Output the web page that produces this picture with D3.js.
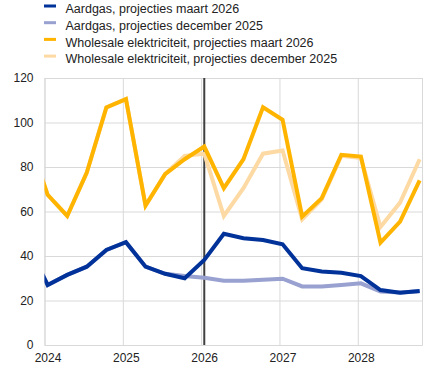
<!DOCTYPE html>
<html>
<head>
<meta charset="utf-8">
<script src="https://cdn.jsdelivr.net/npm/d3@7"></script>
<style>
  html, body { margin: 0; padding: 0; background: #fff; }
  #chart { width: 425px; height: 373px; }
</style>
</head>
<body>
<div id="chart"></div>
<script>
(function () {
  "use strict";

  // quarters, first one (2023Q4) sits just left of the plot and gets clipped
  var quarters = ["2023Q4",
    "2024Q1", "2024Q2", "2024Q3", "2024Q4",
    "2025Q1", "2025Q2", "2025Q3", "2025Q4",
    "2026Q1", "2026Q2", "2026Q3", "2026Q4",
    "2027Q1", "2027Q2", "2027Q3", "2027Q4",
    "2028Q1", "2028Q2", "2028Q3", "2028Q4"];

  var gasMar  = [45, 27, 31.5, 35.2, 42.7, 46.2, 35.2, 32, 30, 38.2, 50, 48, 47.2, 45.3, 34.5, 33, 32.5, 31, 24.7, 23.5, 24.3];
  var gasDec  = [45, 27, 31.5, 35.2, 42.7, 46.2, 35.2, 32, 31, 30.2, 28.9, 28.9, 29.3, 29.8, 26.3, 26.3, 27, 27.7, 24, 23.6, 24.2];
  var elecMar = [93.5, 67.5, 58, 77.5, 106.8, 110.5, 62.7, 76.8, 83.5, 89.2, 70.5, 83.5, 106.8, 101.2, 57.7, 66, 85.5, 84.7, 46, 55.5, 74];
  var elecDec = [93.5, 67.5, 58, 77.5, 106.8, 110.5, 62.7, 76.8, 85, 86, 58, 70.5, 86, 87.4, 56.5, 65.5, 85, 84, 53, 64, 83.5];

  var yearTicks = [2024, 2025, 2026, 2027, 2028];
  var yTicks    = [0, 20, 40, 60, 80, 100, 120];
  var cutoff    = "2026Q1";

  var series = [
    { name: "Aardgas, projecties maart 2026",                   values: gasMar,  color: "#003299" },
    { name: "Aardgas, projecties december 2025",                values: gasDec,  color: "#98a1d0" },
    { name: "Wholesale elektriciteit, projecties maart 2026",    values: elecMar, color: "#ffb400" },
    { name: "Wholesale elektriciteit, projecties december 2025", values: elecDec, color: "#fddaa4" }
  ];

  var GRID = "#d9d9d9";
  var TEXT = "#222";
  var FONT = "'Liberation Sans', Arial, sans-serif";

  // quarter label -> fractional year (points sit just after the quarter start)
  function qPos(q) {
    return +q.slice(0, 4) + (+q.slice(5) - 1) / 4 + 0.04;
  }

  var W = 425, H = 373;
  var plot = { left: 44.5, right: 422, top: 78, bottom: 345 };

  var x = d3.scaleLinear().domain([2024, 2028.82]).range([plot.left, plot.right]);
  var y = d3.scaleLinear().domain([0, 120]).range([plot.bottom, plot.top]);

  var svg = d3.select("#chart").append("svg")
    .attr("width", W)
    .attr("height", H)
    .style("font-family", FONT);

  svg.append("defs").append("clipPath").attr("id", "plot-clip")
    .append("rect")
      .attr("x", plot.left).attr("y", 0)
      .attr("width", plot.right - plot.left + 4).attr("height", plot.bottom + 2);

  // horizontal grid + y labels
  svg.append("g")
    .attr("transform", "translate(" + plot.left + ",0)")
    .call(d3.axisLeft(y).tickValues(yTicks).tickSize(-(plot.right - plot.left)).tickPadding(11))
    .call(function (g) {
      g.select(".domain").remove();
      g.selectAll(".tick line").attr("stroke", GRID).attr("stroke-width", 1);
      g.selectAll(".tick text")
        .attr("fill", TEXT)
        .attr("font-size", "12px")
        .attr("font-family", FONT);
    });

  // vertical year grid + x labels
  svg.append("g")
    .attr("transform", "translate(0," + plot.bottom + ")")
    .call(d3.axisBottom(x).tickValues(yearTicks).tickFormat(d3.format("d"))
      .tickSize(-(plot.bottom - plot.top)).tickPadding(8))
    .call(function (g) {
      g.select(".domain").attr("stroke", GRID);
      g.selectAll(".tick line").attr("stroke", GRID).attr("stroke-width", 1);
      g.selectAll(".tick text")
        .attr("fill", TEXT)
        .attr("font-size", "12px")
        .attr("font-family", FONT)
        .attr("dx", "3");
    });

  // projection cut-off marker
  svg.append("line")
    .attr("x1", x(qPos(cutoff))).attr("x2", x(qPos(cutoff)))
    .attr("y1", plot.top).attr("y2", plot.bottom)
    .attr("stroke", "#404040")
    .attr("stroke-width", 2);

  var line = d3.line()
    .x(function (d, i) { return x(qPos(quarters[i])); })
    .y(function (d) { return y(d); });

  var lines = svg.append("g").attr("clip-path", "url(#plot-clip)");
  // december projections underneath, march on top
  [series[1], series[3], series[0], series[2]].forEach(function (s) {
    lines.append("path")
      .datum(s.values)
      .attr("fill", "none")
      .attr("stroke", s.color)
      .attr("stroke-width", 4)
      .attr("stroke-linejoin", "miter")
      .attr("d", line);
  });

  // legend
  var legend = svg.append("g");
  series.forEach(function (s, i) {
    var ly = 13.3 + i * 16.7;
    legend.append("rect")
      .attr("x", 44).attr("y", ly - 8.8)
      .attr("width", 12).attr("height", 3)
      .attr("fill", s.color);
    legend.append("text")
      .attr("x", 65.5).attr("y", ly)
      .attr("fill", TEXT)
      .attr("font-size", "12.5px")
      .text(s.name);
  });
}());
</script>
</body>
</html>
